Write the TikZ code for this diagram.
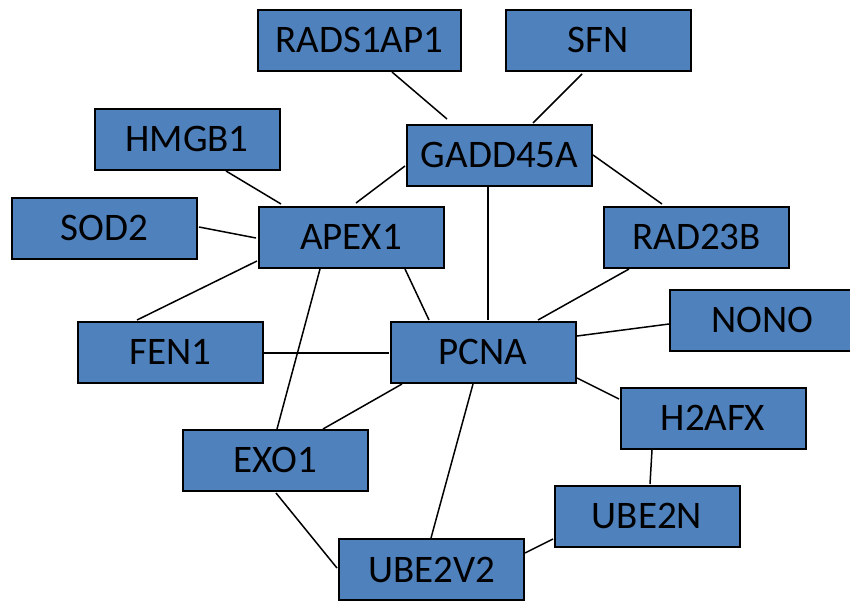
\documentclass[tikz,border=0pt]{standalone}
\usepackage{fontspec}
\setmainfont{Carlito}
\definecolor{boxblue}{HTML}{4F81BD}
\begin{document}
\begin{tikzpicture}[x=1pt,y=-1pt,
  gene/.style={draw=black, line width=2pt, fill=boxblue, minimum width=185pt, minimum height=61pt,
    inner sep=0pt, font=\fontsize{39}{45}\selectfont, text=black},
  link/.style={line width=1.5pt, black}]
\useasboundingbox (0,0) rectangle (850,600);
\node[gene, minimum width=203pt] (R) at (359.5,40) {RADS1AP1};
\node[gene] (S) at (598,40) {SFN};
\node[gene] (H) at (187,139) {HMGB1};
\node[gene] (G) at (499.5,155) {GADD45A};
\node[gene] (SO) at (104.5,228) {SOD2};
\node[gene] (A) at (351,237) {APEX1};
\node[gene] (RB) at (696.5,237) {RAD23B};
\node[gene] (N) at (762.5,320) {NONO};
\node[gene] (F) at (170.5,352) {FEN1};
\node[gene] (P) at (483,352) {PCNA};
\node[gene] (H2) at (713,418) {H2AFX};
\node[gene] (E) at (275,460) {EXO1};
\node[gene] (UN) at (647,516) {UBE2N};
\node[gene] (U2) at (431.5,569.5) {UBE2V2};
\draw[link] ([shift={(32.5,32)}]R.center) -- ([shift={(-52.5,-36)}]G.center);
\draw[link] ([shift={(-16,34)}]S.center) -- ([shift={(33.5,-32)}]G.center);
\draw[link] ([shift={(-94.5,11)}]G.center) -- ([shift={(5,-34)}]A.center);
\draw[link] ([shift={(93.5,0)}]G.center) -- ([shift={(-34.5,-33)}]RB.center);
\draw[link] ([shift={(-11.5,32)}]G.center) -- ([shift={(5,-32)}]P.center);
\draw[link] ([shift={(39,32)}]H.center) -- ([shift={(-70,-33)}]A.center);
\draw[link] ([shift={(94.5,-1)}]SO.center) -- ([shift={(-95,1)}]A.center);
\draw[link] ([shift={(-94,24)}]A.center) -- ([shift={(-33.5,-32)}]F.center);
\draw[link] ([shift={(54,32)}]A.center) -- ([shift={(-54,-32)}]P.center);
\draw[link] ([shift={(-31,32)}]A.center) -- ([shift={(2,-31)}]E.center);
\draw[link] ([shift={(-67.5,32)}]RB.center) -- ([shift={(55,-32)}]P.center);
\draw[link] ([shift={(-93.5,4)}]N.center) -- ([shift={(94,-16)}]P.center);
\draw[link] ([shift={(93.5,1)}]F.center) -- ([shift={(-94,1)}]P.center);
\draw[link] ([shift={(94,26)}]P.center) -- ([shift={(-94,-19)}]H2.center);
\draw[link] ([shift={(-81,32)}]P.center) -- ([shift={(48,-31)}]E.center);
\draw[link] ([shift={(-10,32)}]P.center) -- ([shift={(-0.5,-31.5)}]U2.center);
\draw[link] ([shift={(-61,32)}]H2.center) -- ([shift={(3,-32)}]UN.center);
\draw[link] ([shift={(-94,23)}]UN.center) -- ([shift={(93.5,-16.5)}]U2.center);
\draw[link] ([shift={(1,33)}]E.center) -- ([shift={(-94.5,-1.5)}]U2.center);
\end{tikzpicture}
\end{document}
